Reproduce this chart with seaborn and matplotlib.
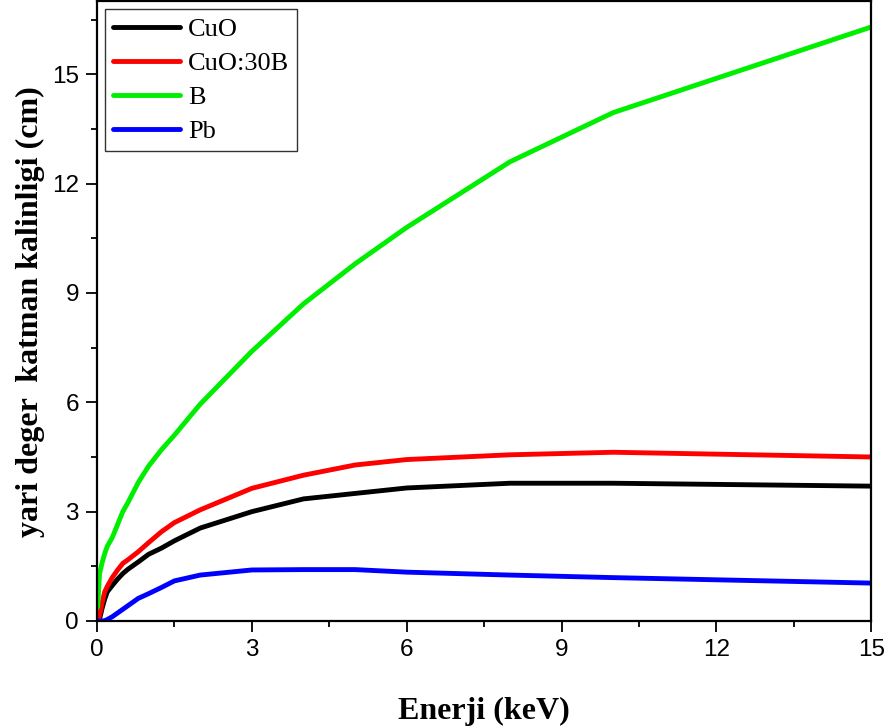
import numpy as np
import pandas as pd
import matplotlib
matplotlib.use("Agg")
import matplotlib.pyplot as plt
import seaborn as sns
from matplotlib.ticker import MultipleLocator

energy = [0.015, 0.05, 0.1, 0.15, 0.2, 0.3, 0.4, 0.5, 0.6, 0.8, 1.0, 1.25, 1.5,
          2.0, 3.0, 4.0, 5.0, 6.0, 8.0, 10.0, 15.0]
cuo = [0.01, 0.05, 0.35, 0.6, 0.8, 0.98, 1.15, 1.3, 1.42, 1.62, 1.83, 2.0, 2.2,
       2.55, 3.0, 3.35, 3.5, 3.65, 3.78, 3.78, 3.7]
cuo30b = [0.02, 0.15, 0.5, 0.8, 0.95, 1.2, 1.4, 1.58, 1.68, 1.9, 2.15, 2.45, 2.7,
          3.05, 3.64, 4.0, 4.28, 4.43, 4.56, 4.63, 4.5]
boron = [0.39, 1.3, 1.6, 1.85, 2.05, 2.3, 2.65, 3.0, 3.25, 3.8, 4.25, 4.7, 5.1,
         5.95, 7.4, 8.7, 9.8, 10.8, 12.6, 13.95, 16.3]
pb = [0.0, 0.0, 0.0, 0.01, 0.04, 0.12, 0.22, 0.32, 0.42, 0.62, 0.75, 0.92, 1.1,
      1.26, 1.4, 1.41, 1.41, 1.34, 1.26, 1.19, 1.04]

series_names = ["CuO", "CuO:30B", "B", "Pb"]
colors = ["#000000", "#ff0000", "#00ee00", "#0000ff"]

df = pd.concat([
    pd.DataFrame({"Enerji": energy, "HVL": vals, "Malzeme": name})
    for name, vals in zip(series_names, [cuo, cuo30b, boron, pb])
])

sns.set_style("ticks")
plt.rcParams["font.family"] = ["Liberation Sans", "DejaVu Sans"]
plt.rcParams["text.color"] = "black"
plt.rcParams["axes.labelcolor"] = "black"
plt.rcParams["xtick.color"] = "black"
plt.rcParams["ytick.color"] = "black"

fig = plt.figure(figsize=(8.88, 7.28), dpi=100)
ax = fig.add_axes([0.1092, 0.147, 0.872, 0.851])

sns.lineplot(data=df, x="Enerji", y="HVL", hue="Malzeme", hue_order=series_names,
             palette=colors, linewidth=3.5, ax=ax, sort=True, estimator=None)

ax.set_xlim(0, 15)
ax.set_ylim(0, 17)
ax.xaxis.set_major_locator(MultipleLocator(3))
ax.xaxis.set_minor_locator(MultipleLocator(1.5))
ax.yaxis.set_major_locator(MultipleLocator(3))
ax.yaxis.set_minor_locator(MultipleLocator(1.5))
ax.tick_params(which="major", direction="out", length=8, width=1.3,
               labelsize=17.5, pad=5, colors="black")
ax.tick_params(which="minor", direction="out", length=4.5, width=1.3, colors="black")
for s in ax.spines.values():
    s.set_linewidth(1.6)
    s.set_color("black")
    s.set_visible(True)

ax.set_xlabel("Enerji (keV)", fontfamily="Liberation Serif", fontweight="bold",
              fontsize=23, labelpad=26, color="black")
ax.set_ylabel("yari deger  katman kalinligi (cm)", fontfamily="Liberation Serif",
              fontweight="bold", fontsize=23, labelpad=5, color="black")

leg = ax.legend(loc="upper left", prop={"family": "Liberation Serif", "size": 19},
                frameon=True, fancybox=False, edgecolor="black",
                handlelength=2.55, labelspacing=0.4, borderaxespad=0.3,
                handletextpad=0.3, borderpad=0.3)
leg.get_frame().set_linewidth(1.0)
for line in leg.get_lines():
    line.set_linewidth(3.5)
    line.set_solid_capstyle("round")
for t in leg.get_texts():
    t.set_color("black")

fig.savefig("out.png", dpi=100)
